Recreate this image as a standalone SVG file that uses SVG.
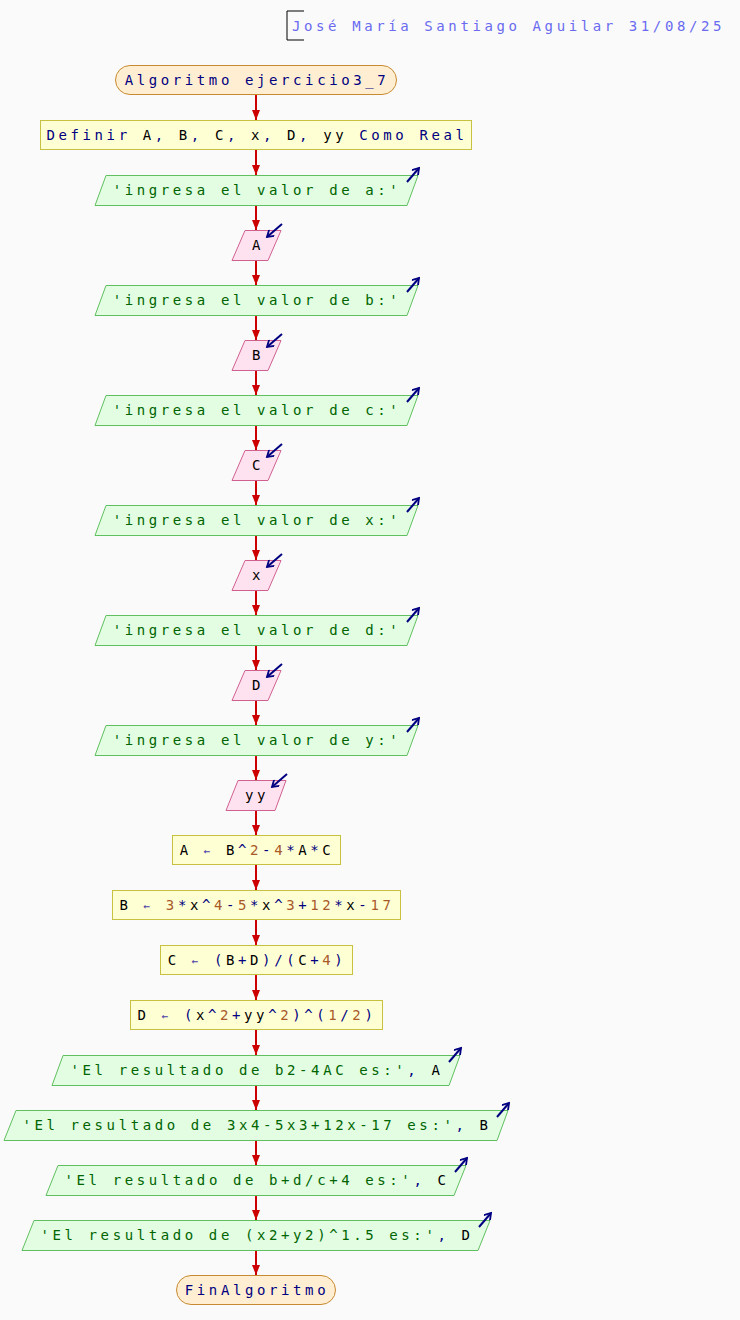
<svg xmlns="http://www.w3.org/2000/svg" width="740" height="1320" viewBox="0 0 740 1320">
<defs>
<marker id="ah" viewBox="0 0 10 8" refX="10" refY="4" markerWidth="10" markerHeight="8" markerUnits="userSpaceOnUse" orient="auto">
<path d="M0,0 L10,4 L0,8 Z" fill="#cc0000"/>
</marker>
<marker id="io" viewBox="0 0 10 10" refX="8" refY="5" markerWidth="9" markerHeight="9" markerUnits="userSpaceOnUse" orient="auto">
<path d="M1,0.5 L8,5 L1,9.5" fill="none" stroke="#000080" stroke-width="2"/>
</marker>
<style>
text{font-family:"DejaVu Sans Mono","Liberation Mono",monospace;font-size:14px;letter-spacing:3.6px;text-anchor:middle}
.term{fill:#ffeed2;stroke:#c88a30;stroke-width:1}
.proc{fill:#ffffd4;stroke:#c8c040;stroke-width:1}
.out{fill:#e2fde2;stroke:#60c060;stroke-width:1}
.in{fill:#ffe2f0;stroke:#d06090;stroke-width:1}
.kw{fill:#000080}
.str{fill:#006400}
.num{fill:#a85a28}
.op{fill:#000080}
.var{fill:#000000}
.asg{fill:#4a3ca8;font-size:11px}
.icon{stroke:#000080;stroke-width:2;fill:none;marker-end:url(#io)}
.conn line{stroke:#cc0000;stroke-width:2;marker-end:url(#ah)}
</style>
</defs>
<rect width="740" height="1320" fill="#fafafa"/>
<g id="header">
<path d="M304,11 H287 V40 H304" fill="none" stroke="#000" stroke-width="1"/>
<text x="292" y="31" style="text-anchor:start;fill:#6a6af0">José María Santiago Aguilar 31/08/25</text>
</g>
<g id="connectors" class="conn">
<line x1="256" y1="95" x2="256" y2="120"/>
<line x1="256" y1="150" x2="256" y2="175"/>
<line x1="256" y1="205" x2="256" y2="230"/>
<line x1="256" y1="260" x2="256" y2="285"/>
<line x1="256" y1="315" x2="256" y2="340"/>
<line x1="256" y1="370" x2="256" y2="395"/>
<line x1="256" y1="425" x2="256" y2="450"/>
<line x1="256" y1="480" x2="256" y2="505"/>
<line x1="256" y1="535" x2="256" y2="560"/>
<line x1="256" y1="590" x2="256" y2="615"/>
<line x1="256" y1="645" x2="256" y2="670"/>
<line x1="256" y1="700" x2="256" y2="725"/>
<line x1="256" y1="755" x2="256" y2="780"/>
<line x1="256" y1="810" x2="256" y2="835"/>
<line x1="256" y1="865" x2="256" y2="890"/>
<line x1="256" y1="920" x2="256" y2="945"/>
<line x1="256" y1="975" x2="256" y2="1000"/>
<line x1="256" y1="1030" x2="256" y2="1055"/>
<line x1="256" y1="1085" x2="256" y2="1110"/>
<line x1="256" y1="1140" x2="256" y2="1165"/>
<line x1="256" y1="1195" x2="256" y2="1220"/>
<line x1="256" y1="1250" x2="256" y2="1275"/>
</g>
<g id="start">
<rect class="term" x="115.5" y="65.5" width="281" height="29" rx="14.5"/>
<text x="257" y="85" class="kw">Algoritmo ejercicio3_7</text>
</g>
<g id="definir">
<rect class="proc" x="40.5" y="120.5" width="431" height="29"/>
<text x="257" y="140"><tspan class="kw">Definir </tspan><tspan class="var">A</tspan><tspan class="op">, </tspan><tspan class="var">B</tspan><tspan class="op">, </tspan><tspan class="var">C</tspan><tspan class="op">, </tspan><tspan class="var">x</tspan><tspan class="op">, </tspan><tspan class="var">D</tspan><tspan class="op">, </tspan><tspan class="var">yy</tspan><tspan class="kw"> Como Real</tspan></text>
</g>
<g id="out_a">
<polygon class="out" points="106,175.5 418,175.5 407,205.5 95,205.5"/>
<text x="257" y="195" class="str">'ingresa el valor de a:'</text>
<line class="icon" x1="407" y1="182" x2="419" y2="168"/>
</g>
<g id="in_A">
<polygon class="in" points="245,230.5 281,230.5 268,260.5 232,260.5"/>
<text x="258" y="250" class="var">A</text>
<line class="icon" x1="282" y1="224" x2="267" y2="237"/>
</g>
<g id="out_b">
<polygon class="out" points="106,285.5 418,285.5 407,315.5 95,315.5"/>
<text x="257" y="305" class="str">'ingresa el valor de b:'</text>
<line class="icon" x1="407" y1="292" x2="419" y2="278"/>
</g>
<g id="in_B">
<polygon class="in" points="245,340.5 281,340.5 268,370.5 232,370.5"/>
<text x="258" y="360" class="var">B</text>
<line class="icon" x1="282" y1="334" x2="267" y2="347"/>
</g>
<g id="out_c">
<polygon class="out" points="106,395.5 418,395.5 407,425.5 95,425.5"/>
<text x="257" y="415" class="str">'ingresa el valor de c:'</text>
<line class="icon" x1="407" y1="402" x2="419" y2="388"/>
</g>
<g id="in_C">
<polygon class="in" points="245,450.5 281,450.5 268,480.5 232,480.5"/>
<text x="258" y="470" class="var">C</text>
<line class="icon" x1="282" y1="444" x2="267" y2="457"/>
</g>
<g id="out_x">
<polygon class="out" points="106,505.5 418,505.5 407,535.5 95,535.5"/>
<text x="257" y="525" class="str">'ingresa el valor de x:'</text>
<line class="icon" x1="407" y1="512" x2="419" y2="498"/>
</g>
<g id="in_x">
<polygon class="in" points="245,560.5 281,560.5 268,590.5 232,590.5"/>
<text x="258" y="580" class="var">x</text>
<line class="icon" x1="282" y1="554" x2="267" y2="567"/>
</g>
<g id="out_d">
<polygon class="out" points="106,615.5 418,615.5 407,645.5 95,645.5"/>
<text x="257" y="635" class="str">'ingresa el valor de d:'</text>
<line class="icon" x1="407" y1="622" x2="419" y2="608"/>
</g>
<g id="in_D">
<polygon class="in" points="245,670.5 281,670.5 268,700.5 232,700.5"/>
<text x="258" y="690" class="var">D</text>
<line class="icon" x1="282" y1="664" x2="267" y2="677"/>
</g>
<g id="out_y">
<polygon class="out" points="106,725.5 418,725.5 407,755.5 95,755.5"/>
<text x="257" y="745" class="str">'ingresa el valor de y:'</text>
<line class="icon" x1="407" y1="732" x2="419" y2="718"/>
</g>
<g id="in_yy">
<polygon class="in" points="238,780.5 286,780.5 275,810.5 226,810.5"/>
<text x="257" y="800" class="var">yy</text>
<line class="icon" x1="287" y1="774" x2="272" y2="787"/>
</g>
<g id="asg_A">
<rect class="proc" x="172.5" y="835.5" width="168" height="29"/>
<text x="257" y="855"><tspan class="var">A </tspan><tspan class="asg">←</tspan><tspan class="var"> B</tspan><tspan class="op">^</tspan><tspan class="num">2</tspan><tspan class="op">-</tspan><tspan class="num">4</tspan><tspan class="op">*</tspan><tspan class="var">A</tspan><tspan class="op">*</tspan><tspan class="var">C</tspan></text>
</g>
<g id="asg_B">
<rect class="proc" x="112.5" y="890.5" width="288" height="29"/>
<text x="257" y="910"><tspan class="var">B </tspan><tspan class="asg">←</tspan><tspan class="var"> </tspan><tspan class="num">3</tspan><tspan class="op">*</tspan><tspan class="var">x</tspan><tspan class="op">^</tspan><tspan class="num">4</tspan><tspan class="op">-</tspan><tspan class="num">5</tspan><tspan class="op">*</tspan><tspan class="var">x</tspan><tspan class="op">^</tspan><tspan class="num">3</tspan><tspan class="op">+</tspan><tspan class="num">12</tspan><tspan class="op">*</tspan><tspan class="var">x</tspan><tspan class="op">-</tspan><tspan class="num">17</tspan></text>
</g>
<g id="asg_C">
<rect class="proc" x="160.5" y="945.5" width="192" height="29"/>
<text x="257" y="965"><tspan class="var">C </tspan><tspan class="asg">←</tspan><tspan class="var"> </tspan><tspan class="op">(</tspan><tspan class="var">B</tspan><tspan class="op">+</tspan><tspan class="var">D</tspan><tspan class="op">)/(</tspan><tspan class="var">C</tspan><tspan class="op">+</tspan><tspan class="num">4</tspan><tspan class="op">)</tspan></text>
</g>
<g id="asg_D">
<rect class="proc" x="130.5" y="1000.5" width="252" height="29"/>
<text x="257" y="1020"><tspan class="var">D </tspan><tspan class="asg">←</tspan><tspan class="var"> </tspan><tspan class="op">(</tspan><tspan class="var">x</tspan><tspan class="op">^</tspan><tspan class="num">2</tspan><tspan class="op">+</tspan><tspan class="var">yy</tspan><tspan class="op">^</tspan><tspan class="num">2</tspan><tspan class="op">)^(</tspan><tspan class="num">1</tspan><tspan class="op">/</tspan><tspan class="num">2</tspan><tspan class="op">)</tspan></text>
</g>
<g id="out_rA">
<polygon class="out" points="63,1055.5 460,1055.5 449,1085.5 52,1085.5"/>
<text x="257" y="1075"><tspan class="str">'El resultado de b2-4AC es:'</tspan><tspan class="op">, </tspan><tspan class="var">A</tspan></text>
<line class="icon" x1="449" y1="1062" x2="461" y2="1048"/>
</g>
<g id="out_rB">
<polygon class="out" points="16,1110.5 508,1110.5 497,1140.5 4,1140.5"/>
<text x="257" y="1130"><tspan class="str">'El resultado de 3x4-5x3+12x-17 es:'</tspan><tspan class="op">, </tspan><tspan class="var">B</tspan></text>
<line class="icon" x1="497" y1="1117" x2="509" y2="1103"/>
</g>
<g id="out_rC">
<polygon class="out" points="58,1165.5 466,1165.5 454,1195.5 46,1195.5"/>
<text x="257" y="1185"><tspan class="str">'El resultado de b+d/c+4 es:'</tspan><tspan class="op">, </tspan><tspan class="var">C</tspan></text>
<line class="icon" x1="455" y1="1172" x2="467" y2="1158"/>
</g>
<g id="out_rD">
<polygon class="out" points="34,1220.5 490,1220.5 478,1250.5 22,1250.5"/>
<text x="257" y="1240"><tspan class="str">'El resultado de (x2+y2)^1.5 es:'</tspan><tspan class="op">, </tspan><tspan class="var">D</tspan></text>
<line class="icon" x1="479" y1="1227" x2="491" y2="1213"/>
</g>
<g id="end">
<rect class="term" x="176.5" y="1275.5" width="159" height="29" rx="14.5"/>
<text x="257" y="1295" class="kw">FinAlgoritmo</text>
</g>
</svg>
